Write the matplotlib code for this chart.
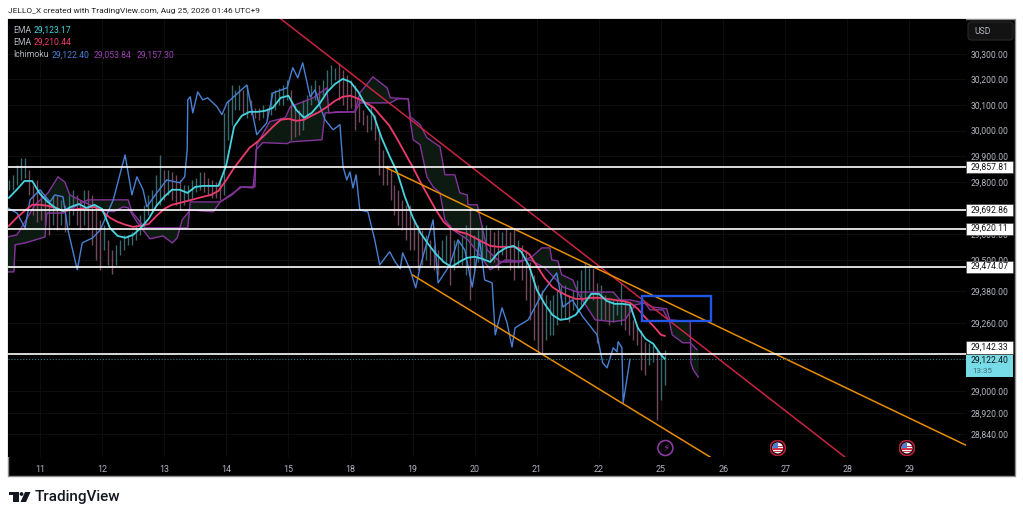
import numpy as np
import matplotlib
matplotlib.use("Agg")
import matplotlib.pyplot as plt
from matplotlib.patches import Circle, FancyBboxPatch, Polygon, Rectangle
from matplotlib.ticker import NullLocator

plt.rcParams["font.family"] = ["Roboto", "DejaVu Sans"]

WIDTH, HEIGHT = 1023, 519

session_labels = ["11", "12", "13", "14", "15", "18", "19", "20", "21", "22", "25", "26", "27", "28", "29"]
price_ticks = [30300, 30200, 30100, 30000, 29900, 29800, 29600, 29500, 29380, 29260, 29000, 28920, 28840]
level_prices = [29857.81, 29692.86, 29620.11, 29474.07, 29142.33]
# the scale pushes the last level label up, clear of the live price label
level_label_prices = [29857.81, 29692.86, 29620.11, 29474.07, 29166]
last_price = 29122.40
countdown = "13:35"

# one value every 1/8 session, first one half a session before the "11" tick
ema_fast = [
    29739, 29770, 29804, 29804, 29754, 29723, 29700, 29688, 29704, 29715, 29700, 29712,
    29696, 29623, 29592, 29585, 29596, 29623, 29658, 29708, 29743, 29770, 29770, 29758,
    29781, 29785, 29785, 29785, 29866, 30015, 30058, 30073, 30073, 30077, 30089, 30128,
    30136, 30081, 30050, 30069, 30104, 30151, 30182, 30202, 30190, 30151, 30097, 30058,
    29972, 29902, 29839, 29743, 29665, 29604, 29561, 29523, 29492, 29473, 29492, 29508,
    29512, 29504, 29492, 29527, 29546, 29554, 29531, 29477, 29385, 29332, 29290, 29271,
    29275, 29290, 29328, 29370, 29370, 29343, 29332, 29332, 29328, 29241, 29199, 29180,
    29138, 29123,
]
ema_slow = [
    29631, 29662, 29688, 29712, 29712, 29708, 29700, 29688, 29692, 29696, 29700, 29704,
    29688, 29662, 29646, 29635, 29627, 29631, 29638, 29669, 29696, 29712, 29719, 29727,
    29735, 29743, 29750, 29766, 29808, 29855, 29894, 29933, 29956, 29984, 30015, 30042,
    30046, 30038, 30042, 30058, 30073, 30093, 30116, 30132, 30136, 30124, 30108, 30089,
    30054, 30019, 29968, 29913, 29859, 29800, 29746, 29692, 29646, 29619, 29608, 29600,
    29585, 29569, 29554, 29550, 29550, 29550, 29542, 29523, 29477, 29431, 29396, 29377,
    29362, 29351, 29351, 29355, 29355, 29351, 29347, 29343, 29336, 29313, 29279, 29248,
    29214, 29210,
]

lagging_pos = [
    -0.52, -0.37, -0.24, -0.16, 0.00, 0.16, 0.24, 0.37, 0.45, 0.60, 0.68, 0.85, 0.97, 1.18, 1.37, 1.48,
    1.56, 1.66, 1.72, 1.88, 2.04, 2.25, 2.33, 2.37, 2.38, 2.42, 2.46, 2.54, 2.62, 2.70, 2.85, 2.93,
    3.01, 3.33, 3.38, 3.49, 3.65, 3.75, 3.98, 4.07, 4.15, 4.23, 4.35, 4.43, 4.51, 4.59, 4.72, 4.83,
    4.88, 4.94, 4.99, 5.04, 5.09, 5.15, 5.28, 5.39, 5.47, 5.63, 5.72, 5.80, 5.84, 5.96, 6.05, 6.12,
    6.33, 6.41, 6.60, 6.73, 6.84, 6.96, 7.08, 7.16, 7.28, 7.33, 7.44, 7.52, 7.60, 7.65, 7.86, 8.10,
    8.32, 8.42, 8.57, 8.74, 8.97, 9.06, 9.13, 9.23, 9.29, 9.31, 9.37, 9.39, 9.50,
]
lagging_price = [
    29700, 29680, 29623, 29731, 29770, 29723, 29750, 29743, 29615, 29462, 29565, 29585, 29615, 29731, 29905, 29750,
    29820, 29770, 29704, 29758, 29808, 29797, 29820, 29925, 30120, 30132, 30069, 30151, 30120, 30128, 30093, 30062,
    30108, 30178, 30120, 29984, 30030, 30147, 30167, 30246, 30206, 30265, 30132, 30159, 30093, 30042, 30003, 30023,
    29859, 29808, 29839, 29777, 29828, 29692, 29685, 29577, 29481, 29531, 29492, 29466, 29527, 29462, 29393, 29473,
    29654, 29412, 29481, 29577, 29538, 29396, 29577, 29423, 29412, 29214, 29317, 29260, 29168, 29241, 29271, 29377,
    29450, 29320, 29347, 29283, 29214, 29108, 29089, 29165, 29150, 29188, 29165, 28957, 29122,
]

span_a_pos = [
    -0.53, -0.37, -0.27, -0.08, 0.13, 0.29, 0.40, 0.48, 0.64, 0.97, 1.18, 1.34, 1.42, 1.56, 1.66, 1.77,
    1.98, 2.13, 2.21, 2.29, 2.42, 2.79, 2.90, 3.11, 3.25, 3.43, 3.46, 3.49, 3.70, 3.95, 4.03, 4.40,
    4.62, 4.65, 4.78, 5.07, 5.15, 5.36, 5.59, 5.64, 5.93, 5.96, 6.01, 6.12, 6.23, 6.33, 6.44, 6.52,
    6.65, 6.89, 7.08, 7.25, 7.49, 7.68, 7.89, 8.13, 8.42, 8.65, 8.94, 9.23, 9.42, 9.58, 9.74, 9.82,
    10.03, 10.14, 10.18, 10.35, 10.47, 10.58,
]
span_a_price = [
    29588, 29596, 29635, 29712, 29758, 29820, 29800, 29750, 29731, 29692, 29685, 29704, 29700, 29646, 29615, 29581,
    29592, 29565, 29585, 29654, 29692, 29685, 29723, 29758, 29781, 29777, 29847, 29945, 30035, 30050, 30093, 30128,
    30167, 30069, 30073, 30073, 30147, 30210, 30167, 30128, 30124, 30042, 29964, 29945, 29820, 29781, 29758, 29654,
    29615, 29577, 29519, 29462, 29500, 29496, 29500, 29469, 29396, 29377, 29271, 29264, 29271, 29328, 29336, 29309,
    29309, 29260, 29214, 29184, 29184, 29157,
]

span_b_pos = [
    -0.53, -0.42, -0.40, -0.24, 0.08, 0.11, 0.37, 0.77, 1.42, 1.48, 1.69, 2.38, 2.42, 2.90, 3.09, 3.22,
    3.46, 3.48, 3.59, 3.98, 4.03, 4.54, 4.59, 5.07, 5.15, 5.64, 5.76, 5.93, 5.96, 6.12, 6.23, 6.44,
    6.52, 6.68, 6.76, 6.88, 6.89, 7.04, 7.13, 7.20, 7.41, 7.73, 7.92, 8.08, 8.21, 8.24, 8.34, 8.40,
    8.58, 8.66, 9.23, 9.34, 9.50, 9.71, 9.87, 10.09, 10.14, 10.47, 10.48, 10.52, 10.60,
]
span_b_price = [
    29454, 29454, 29558, 29565, 29588, 29680, 29680, 29731, 29731, 29685, 29623, 29623, 29723, 29723, 29750, 29781,
    29781, 29925, 29953, 29949, 29956, 29964, 30069, 30073, 30108, 30108, 30124, 30124, 30054, 30023, 29972, 29937,
    29828, 29828, 29758, 29750, 29712, 29712, 29615, 29538, 29492, 29492, 29512, 29546, 29546, 29500, 29496, 29443,
    29423, 29377, 29377, 29347, 29347, 29336, 29320, 29313, 29271, 29264, 29108, 29081, 29054,
]

candle_high = [
    29808, 29828, 29866, 29894, 29894, 29847, 29789, 29808, 29770, 29750, 29731, 29750, 29750, 29731, 29712, 29750,
    29770, 29750, 29731, 29770, 29770, 29750, 29712, 29654, 29635, 29577, 29538, 29558, 29577, 29596, 29596, 29608,
    29635, 29673, 29712, 29750, 29770, 29828, 29905, 29847, 29847, 29839, 29828, 29808, 29789, 29789, 29808, 29816,
    29839, 29839, 29816, 29808, 29800, 29800, 30069, 30120, 30178, 30159, 30178, 30159, 30178, 30120, 30089, 30089,
    30100, 30089, 30151, 30159, 30167, 30178, 30198, 30159, 30100, 30081, 30120, 30140, 30178, 30198, 30178, 30198,
    30238, 30257, 30246, 30265, 30238, 30218, 30198, 30178, 30120, 30081, 30062, 30100, 30062, 30003, 29925, 29866,
    29847, 29789, 29770, 29731, 29712, 29712, 29654, 29635, 29615, 29596, 29577, 29558, 29538, 29577, 29596, 29635,
    29577, 29577, 29596, 29635, 29700, 29596, 29615, 29635, 29635, 29623, 29608, 29615, 29608, 29623, 29608, 29619,
    29577, 29558, 29538, 29492, 29442, 29404, 29385, 29366, 29347, 29366, 29385, 29404, 29404, 29366, 29385, 29423,
    29462, 29492, 29469, 29469, 29412, 29404, 29366, 29347, 29347, 29347, 29412, 29347, 29328, 29271, 29252, 29233,
    29188, 29184, 29176, 29157, 29138, 29157,
]
candle_low = [
    29770, 29770, 29789, 29808, 29816, 29750, 29673, 29646, 29654, 29635, 29596, 29635, 29615, 29635, 29608, 29635,
    29673, 29635, 29615, 29635, 29615, 29558, 29500, 29462, 29538, 29481, 29446, 29481, 29519, 29538, 29558, 29558,
    29577, 29596, 29623, 29673, 29692, 29712, 29712, 29731, 29750, 29731, 29712, 29692, 29712, 29731, 29739, 29762,
    29770, 29762, 29750, 29739, 29739, 29731, 29750, 29964, 30023, 30081, 30081, 30062, 30050, 30062, 30050, 30042,
    30050, 30042, 30062, 30081, 30100, 30100, 30120, 29964, 29976, 29984, 30003, 30050, 30100, 30120, 30100, 30140,
    30159, 30178, 30198, 30120, 30100, 30081, 30089, 30003, 30034, 30023, 29995, 30003, 29964, 29828, 29789, 29789,
    29731, 29673, 29635, 29615, 29577, 29538, 29538, 29462, 29481, 29500, 29481, 29462, 29442, 29492, 29492, 29404,
    29462, 29481, 29481, 29442, 29347, 29462, 29492, 29492, 29508, 29492, 29492, 29462, 29519, 29492, 29462, 29423,
    29469, 29423, 29347, 29271, 29195, 29149, 29146, 29195, 29214, 29214, 29252, 29271, 29279, 29264, 29309, 29302,
    29328, 29347, 29385, 29347, 29184, 29271, 29271, 29252, 29264, 29290, 29252, 29233, 29214, 29195, 29176, 29081,
    29062, 29100, 29111, 28893, 28968, 29025,
]

# name: (start session, start price, end session, end price)
resistance_red = (3.88, 30438, 12.96, 28754)
channel_upper = (5.56, 29857, 14.90, 28799)
channel_lower = (6.00, 29442, 10.79, 28754)
zone_box = (9.69, 29267, 10.80, 29362)

event_lightning_pos = 10.07
event_flag_pos = [11.88, 13.96]

BG = "#000000"
GRID = "#0e0e0e"
LABEL = "#b2b5be"
CYAN = "#45d4e0"
PINK = "#ef3a6e"
BLUE = "#4a80d4"
PURPLE = "#84349a"
RED = "#c9243f"
ORANGE = "#e88c00"


def px_rect(left, top, right, bottom):
    return [left / WIDTH, 1 - bottom / HEIGHT, (right - left) / WIDTH, (bottom - top) / HEIGHT]


def draw_flag(fig, px_x, px_y):
    icon = fig.add_axes(px_rect(px_x - 8, px_y - 8, px_x + 8, px_y + 8), zorder=20)
    icon.set_xlim(-1, 1)
    icon.set_ylim(-1, 1)
    icon.axis("off")
    icon.patch.set_alpha(0)
    icon.add_patch(Circle((0, 0), 0.95, fc="#1a0508", ec="#b3203a", lw=1.2))
    disc = Circle((0, 0), 0.68, fc="white", ec="none")
    icon.add_patch(disc)
    for y0 in [-0.55, -0.2, 0.15]:
        stripe = Rectangle((-0.8, y0), 1.6, 0.16, fc="#d0324a", ec="none")
        icon.add_patch(stripe)
        stripe.set_clip_path(disc)
    canton = Rectangle((-0.8, 0.0), 0.85, 0.8, fc="#4a7fd0", ec="none")
    icon.add_patch(canton)
    canton.set_clip_path(disc)


fig = plt.figure(figsize=(WIDTH / 100, HEIGHT / 100), dpi=100, facecolor="white")

# page furniture in pixel coordinates
page = fig.add_axes([0, 0, 1, 1], zorder=0)
page.set_xlim(0, WIDTH)
page.set_ylim(HEIGHT, 0)
page.axis("off")
page.add_patch(Rectangle((8, 19), 1007, 457, fc=BG, ec="#8c8c8c", lw=1))
page.text(8, 11, "JELLO_X created with TradingView.com, Aug 25, 2026 01:46 UTC+9",
          fontsize=6.0, color="#222222", va="center")
page.add_patch(Rectangle((9, 492), 9.5, 3.4, fc="#131722", ec="none"))
page.add_patch(Rectangle((13, 492), 5.5, 10, fc="#131722", ec="none"))
page.add_patch(Circle((21.5, 494), 1.9, fc="#131722", ec="none"))
page.add_patch(Polygon([[25, 492], [30.5, 492], [26, 502], [20.5, 502]], fc="#131722", ec="none"))
page.text(35, 497, "TradingView", fontsize=11, fontweight="medium", color="#131722", va="center")

ax = fig.add_axes(px_rect(8, 19, 966, 457), zorder=5)
ax.set_facecolor(BG)
ax.set_yscale("log")
ax.set_xlim(-0.515, 14.91)
ax.set_ylim(28754, 30438)
for side in ax.spines.values():
    side.set_visible(False)

ema_pos = -0.5 + np.arange(len(ema_fast) - 1) * 0.125
ema_pos = np.append(ema_pos, 10.06)
bar_pos = np.linspace(-0.5, 10.06, len(candle_high))

# cloud between the two spans
cloud_pos = np.linspace(-0.53, 10.6, 900)
ax.fill_between(cloud_pos, np.interp(cloud_pos, span_a_pos, span_a_price),
                np.interp(cloud_pos, span_b_pos, span_b_price), color="#0c1a12", lw=0, zorder=1)

highs = np.array(candle_high)
lows = np.array(candle_low)
mids = (highs + lows) / 2
rising = np.append(True, np.diff(mids) >= 0)
ax.vlines(bar_pos, lows, highs, colors=np.where(rising, "#39696c", "#724a5e"), lw=1.0, zorder=2)

ax.plot(span_a_pos, span_a_price, color=PURPLE, lw=1, zorder=3)
ax.plot(span_b_pos, span_b_price, color=PURPLE, lw=1, zorder=3)
ax.plot(lagging_pos, lagging_price, color=BLUE, lw=1, zorder=3)
ax.plot(ema_pos, ema_slow, color=PINK, lw=1.3, zorder=4)
ax.plot(ema_pos, ema_fast, color=CYAN, lw=1.3, zorder=4)

ax.plot(resistance_red[0::2], resistance_red[1::2], color=RED, lw=1.1, zorder=5)
ax.plot(channel_upper[0::2], channel_upper[1::2], color=ORANGE, lw=1.1, zorder=5)
ax.plot(channel_lower[0::2], channel_lower[1::2], color=ORANGE, lw=1.1, zorder=5)
ax.add_patch(Rectangle((zone_box[0], zone_box[1]), zone_box[2] - zone_box[0], zone_box[3] - zone_box[1],
                       fc="none", ec="#2256e6", lw=1.7, zorder=6))

for level in level_prices:
    ax.axhline(level, color="white", lw=1.2, zorder=6)
ax.axhline(last_price, color="#2f7f88", lw=0.8, ls=":", zorder=6)

# time and price scales
ax.set_xticks(range(len(session_labels)))
ax.set_xticklabels(session_labels)
ax.set_yticks(price_ticks)
ax.set_yticklabels([f"{tick:,.2f}" for tick in price_ticks])
ax.yaxis.set_minor_locator(NullLocator())
ax.yaxis.tick_right()
ax.tick_params(axis="x", length=0, pad=6, labelsize=6.4, labelcolor=LABEL)
ax.tick_params(axis="y", length=0, pad=3.6, labelsize=6.2, labelcolor=LABEL)
ax.grid(True, color=GRID, lw=0.7, zorder=0)
ax.set_axisbelow(True)

scale_tf = ax.get_yaxis_transform()
for level in level_label_prices:
    label_value = level_prices[level_label_prices.index(level)]
    ax.add_patch(Rectangle((1.0, level - 23), 0.049, 46, transform=scale_tf, fc="white", ec="#333333",
                           lw=0.4, clip_on=False, zorder=9))
    ax.text(1.0245, level, f"{label_value:,.2f}", transform=scale_tf, fontsize=6.2, color="#111111",
            ha="center", va="center", clip_on=False, zorder=10)
ax.add_patch(Rectangle((1.0, 29056), 0.049, 82, transform=scale_tf, fc="#78dce8", ec="none",
                       clip_on=False, zorder=9))
ax.text(1.0245, 29118, f"{last_price:,.2f}", transform=scale_tf, fontsize=6.2, color="#111111",
        ha="center", va="center", clip_on=False, zorder=10)
ax.text(1.0175, 29079, countdown, transform=scale_tf, fontsize=5.8, color="#3d6f78",
        ha="center", va="center", clip_on=False, zorder=10)

# legend block
rows = [
    (0.9735, [("EMA", LABEL, 0.0053), ("29,123.17", CYAN, 0.0262)]),
    (0.9460, [("EMA", LABEL, 0.0053), ("29,210.44", PINK, 0.0262)]),
    (0.9185, [("Ichimoku", LABEL, 0.0053), ("29,122.40", BLUE, 0.0459),
              ("29,053.84", "#9c3fb0", 0.0898), ("29,157.30", "#9c3fb0", 0.1347)]),
]
for row_y, items in rows:
    for label, color, row_x in items:
        ax.text(row_x, row_y, label, transform=ax.transAxes, fontsize=6.2, color=color, va="center", zorder=10)

# currency button
page_top = fig.add_axes([0, 0, 1, 1], zorder=10)
page_top.set_xlim(0, WIDTH)
page_top.set_ylim(HEIGHT, 0)
page_top.axis("off")
page_top.patch.set_alpha(0)
page_top.add_patch(FancyBboxPatch((968, 22), 45, 18, boxstyle="round,pad=0,rounding_size=3",
                                  fc="#131313", ec="#2a2a2a", lw=0.8))
page_top.text(974, 31, "USD", fontsize=6.2, color=LABEL, va="center")

# economic events on the time scale
event_y = (457 - 448) / 438
ax.scatter([event_lightning_pos], [event_y], s=116, facecolor="none", edgecolor="#8a3aa0", lw=1.2,
           transform=ax.get_xaxis_transform(), zorder=8, clip_on=False)
ax.text(event_lightning_pos, event_y, "\u26a1", transform=ax.get_xaxis_transform(), fontsize=7.5,
        color="#8a3aa0", ha="center", va="center", family="DejaVu Sans", zorder=9)
for event_pos in event_flag_pos:
    draw_flag(fig, 40 + 62.1 * event_pos, 448)

fig.savefig("out.png", dpi=100, facecolor="white")
